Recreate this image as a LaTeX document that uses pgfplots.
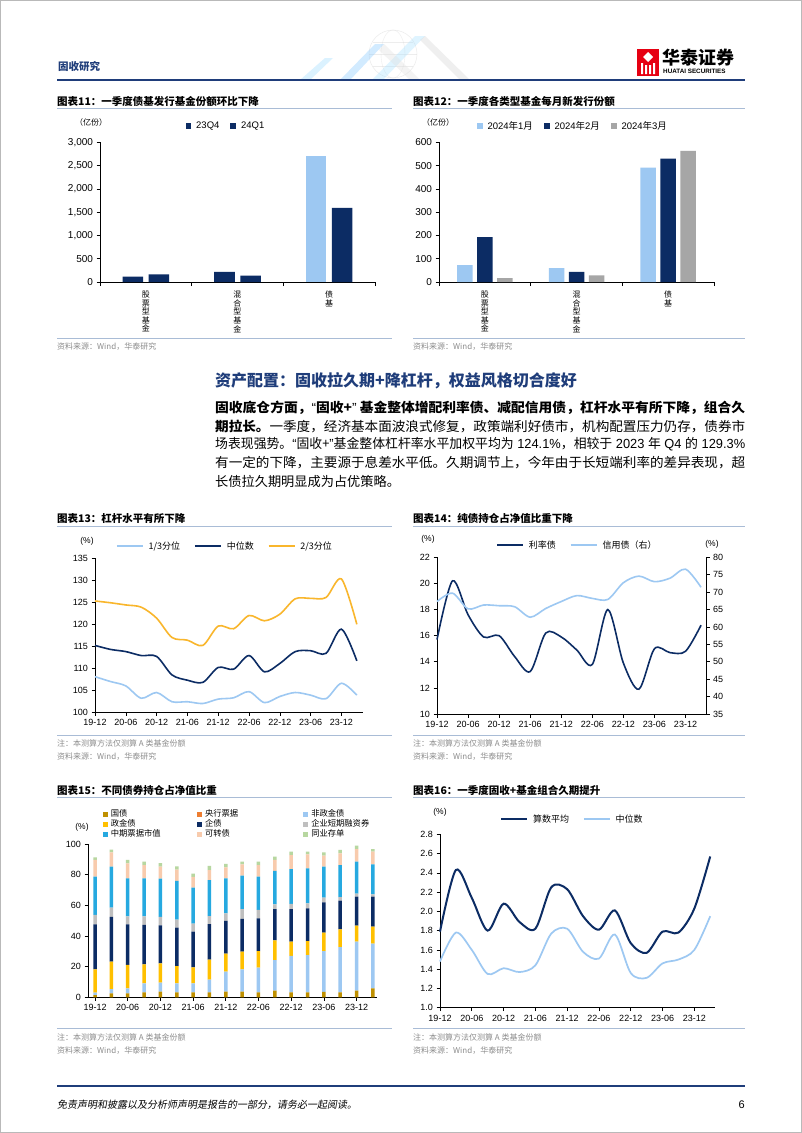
\documentclass[border=0pt]{standalone}
\usepackage{fontspec}
\usepackage{graphicx}
\setmainfont{Liberation Sans}
\newfontfamily\cjk{Noto Sans CJK SC}
\newfontfamily\cjkit[FakeSlant=0.18]{Noto Sans CJK SC}
\usepackage{pgfplots}
\usepackage{pgfplotstable}
\pgfplotsset{compat=1.18}

\definecolor{navy}{HTML}{0C2C64}
\definecolor{lblue}{HTML}{9DC8F2}
\definecolor{lgrey}{HTML}{A6A6A6}
\definecolor{gold}{HTML}{F9B62C}
\definecolor{hdrblue}{HTML}{1F3D7A}
\definecolor{rulec}{HTML}{A9BCD6}
\definecolor{srcgrey}{HTML}{8C8C8C}
\definecolor{cA}{HTML}{BF9000}
\definecolor{cB}{HTML}{ED7D31}
\definecolor{cC}{HTML}{9DC8F2}
\definecolor{cD}{HTML}{FFC000}
\definecolor{cE}{HTML}{0C2C64}
\definecolor{cF}{HTML}{BFBFBF}
\definecolor{cG}{HTML}{26A9E0}
\definecolor{cH}{HTML}{F8CBAD}
\definecolor{cI}{HTML}{B7D7A0}
\definecolor{logored}{HTML}{E60012}

% chart 13: 1/3, median, 2/3
\pgfplotstableread{
x lo med hi
0 108.1 115.2 125.3
1 107.0 114.3 124.9
2 106.0 113.8 124.4
3 103.2 112.9 123.9
4 104.5 112.7 121.4
5 102.4 108.5 117.0
6 102.4 107.3 116.4
7 102.0 106.8 115.2
8 103.0 110.2 119.6
9 103.3 109.8 119.0
10 104.7 112.9 122.0
11 102.2 109.2 120.8
12 103.6 111.1 122.3
13 104.5 113.8 125.8
14 103.9 114.0 125.9
15 103.1 113.4 126.1
16 106.6 118.9 130.3
17 103.9 111.7 120.0
}\tabM

% chart 14
\pgfplotstableread{
x rate credit
0 15.7 67.3
1 20.2 69.7
2 17.6 65.2
3 15.9 66.3
4 16.0 66.1
5 14.4 65.8
6 13.25 62.8
7 16.2 65.3
8 15.9 67.3
9 14.9 69.0
10 13.8 68.2
11 18.0 67.9
12 13.9 72.7
13 11.9 74.6
14 15.0 73.0
15 14.7 74.0
16 14.8 76.6
17 16.8 71.4
}\tabN

% chart 15
\pgfplotstableread{
x gz yp fz zj qz dr zp kz cd
0 1.5 0 1.5 15.3 29.3 6.1 25.0 10.9 1.7
1 2.6 0 2.8 17.9 29.1 6.1 26.7 9.4 1.7
2 2.6 0 3.3 15.2 26.5 5.2 24.8 9.8 2.2
3 3.3 0 5.8 12.4 25.7 5.6 24.8 8.7 2.2
4 3.7 0 5.9 12.6 24.8 5.4 25.0 7.8 2.4
5 3.3 0 5.8 11.3 25.0 5.3 25.2 7.4 2.1
6 3.3 0 5.8 10.5 23.2 5.2 23.5 7.0 2.2
7 3.3 0 8.2 13.1 23.2 5.2 23.5 6.5 2.7
8 3.7 0 13.0 11.8 21.3 5.0 22.8 7.2 2.2
9 3.7 0 14.6 11.5 21.3 6.5 21.7 7.4 1.8
10 3.3 0 16.0 10.9 21.3 5.5 21.7 7.6 2.2
11 4.3 0 20.0 12.9 20.4 3.1 21.7 7.2 2.1
12 3.3 0 23.7 9.3 21.3 3.3 22.8 9.1 2.2
13 3.3 0 24.3 9.1 21.3 3.3 22.8 9.2 1.7
14 3.5 0 26.7 12.0 19.8 3.0 20.2 7.2 2.2
15 3.3 0 29.5 11.5 18.7 2.4 20.9 7.6 2.2
16 4.3 0 32.0 10.4 19.0 1.9 20.9 8.2 2.2
17 5.9 0 29.1 11.1 19.6 1.5 19.5 8.3 1.7
}\tabS

% chart 16
\pgfplotstableread{
x avg med
0 1.79 1.48
1 2.43 1.78
2 2.14 1.60
3 1.80 1.35
4 2.08 1.41
5 1.89 1.37
6 1.82 1.44
7 2.25 1.77
8 2.23 1.82
9 1.95 1.58
10 1.81 1.51
11 2.01 1.76
12 1.67 1.36
13 1.57 1.31
14 1.79 1.46
15 1.78 1.50
16 2.03 1.60
17 2.57 1.95
}\tabD

\pgfplotsset{
  rpt/.style={
    scale only axis, anchor=south west, clip=false,
    axis x line*=bottom, axis y line*=left,
    axis line style={-, black, line width=0.6pt},
    tick style={black, line width=0.6pt},
    tick align=outside, major tick length=3.5pt,
    ticklabel style={font=\fontsize{9}{10}\selectfont},
    /pgf/number format/assume math mode=true,
    legend cell align=left,
    legend style={draw=none, fill=none, font=\cjk\fontsize{9}{10}\selectfont,
      inner sep=0pt, /tikz/every even column/.append style={column sep=12pt},
      /tikz/every odd column/.append style={column sep=3pt}},
  },
  linelegend/.style={legend image code/.code={\draw[##1, line width=1.6pt] (0pt,0pt) -- (26pt,0pt);}},
  sqlegend/.style={legend image code/.code={\fill[##1, draw=none] (0pt,-2.8pt) rectangle (5.6pt,2.8pt);}},
  qx/.style={xmin=0, xtick={0,2,...,16},
    xticklabels={19-12,20-06,20-12,21-06,21-12,22-06,22-12,23-06,23-12}},
  catlab/.style={xticklabel style={font=\cjk\fontsize{8}{8.6}\selectfont, align=center, anchor=north, yshift=-2pt}},
}

\tikzset{
  ttl/.style={anchor=west, inner sep=0, font=\cjk\bfseries\fontsize{10.5}{12}\selectfont},
  src/.style={anchor=west, inner sep=0, text=srcgrey, font=\cjk\fontsize{8}{9}\selectfont},
  unit/.style={inner sep=0, font=\cjk\fontsize{8}{9}\selectfont},
  para/.style={anchor=west, inner sep=0, font=\cjk\fontsize{13.2}{15}\selectfont},
}
\newcommand{\fitline}[1]{\resizebox{530pt}{\height}{#1}}
\newcommand{\qopen}{{\normalfont “}}
\newcommand{\qclose}{{\normalfont ”}}

\begin{document}
\begin{tikzpicture}[x=1pt,y=-1pt]
\useasboundingbox (0,0) rectangle (802,1133);
\fill[white] (0,0) rectangle (802,1133);
\draw[gray!55, line width=1.2pt] (0.6,0.6) rectangle (801.4,1132.4);

% ---------- header ----------
\node[anchor=west, inner sep=0, text=hdrblue, font=\cjk\bfseries\fontsize{10.5}{12}\selectfont] at (58,66) {固收研究};
\begin{scope}[opacity=0.35]
  \draw[gray!45, line width=0.5pt] (393,54) circle (24);
  \draw[gray!40, line width=0.4pt] (393,54) ellipse (12 and 24);
  \draw[gray!40, line width=0.4pt] (369,54) -- (417,54);
  \draw[gray!40, line width=0.4pt] (373,42) -- (413,42) (373,66) -- (413,66);
  \fill[blue!35!cyan!40] (300,80) -- (325,58) -- (333,58) -- (310,80) -- cycle;
  \fill[blue!45!cyan!50] (340,80) -- (375,44) -- (384,44) -- (350,80) -- cycle;
  \fill[blue!35!cyan!35] (372,80) -- (415,36) -- (425,36) -- (383,80) -- cycle;
  \fill[gray!35] (425,36) -- (470,80) -- (460,80) -- (420,40) -- cycle;
  \fill[gray!25] (384,44) -- (420,80) -- (410,80) -- (379,50) -- cycle;
\end{scope}
\draw[hdrblue, line width=1.8pt] (57,80) -- (745,80);
% logo
\fill[logored] (637,49) rectangle (659,76);
\fill[white] (648,52) -- (653,57) -- (648,62) -- (643,57) -- cycle;
\fill[white] (641,63) rectangle (643,74) (645,65) rectangle (647,74) (649,65) rectangle (651,74) (653,63) rectangle (655,74);
\node[anchor=west, inner sep=0, font=\cjk\bfseries\fontsize{18}{20}\selectfont] at (662,58) {华泰证券};
\node[anchor=west, inner sep=0, font=\bfseries\fontsize{6.3}{7}\selectfont] at (663,71.5) {HUATAI SECURITIES};

% ---------- chart 11 / 12 texts ----------
\node[ttl] at (57,101.5) {图表11：一季度债基发行基金份额环比下降};
\draw[rulec, line width=0.8pt] (57,108) -- (392,108);
\node[ttl] at (413,101.5) {图表12：一季度各类型基金每月新发行份额};
\draw[rulec, line width=0.8pt] (413,108) -- (745,108);
\node[unit] at (91,122.5) {（亿份）};
\node[unit] at (438,122.5) {（亿份）};
\draw[rulec, line width=0.8pt] (57,338) -- (392,338);
\draw[rulec, line width=0.8pt] (413,338) -- (745,338);
\node[src] at (57,347) {资料来源：Wind，华泰研究};
\node[src] at (413,347) {资料来源：Wind，华泰研究};

% ---------- chart 11 ----------
\begin{axis}[rpt, sqlegend, catlab, at={(100pt,-282pt)}, width=275pt, height=139.7pt,
  ymin=0, ymax=3000, ytick={0,500,...,3000},
  yticklabel style={font=\fontsize{10}{11}\selectfont, /pgf/number format/.cd, 1000 sep={,}},
  xmin=-0.5, xmax=2.5, xtick={0,1,2},
  xticklabels={{股\\票\\型\\基\\金},{混\\合\\型\\基\\金},{债\\基}},
  major x tick style={draw=none},
  minor xtick={-0.5,0.5,1.5,2.5}, minor tick length=4pt, minor x tick style={black, line width=0.6pt},
  legend columns=2,
  legend style={at={(0.458,1.117)}, anchor=center, font=\fontsize{9.5}{11}\selectfont,
    /tikz/every even column/.append style={column sep=9pt}},
]
\addplot[ybar, bar width=20.5pt, bar shift=-13pt, fill=navy, draw=none] coordinates {(0,115) (1,215)};
\addlegendentry{23Q4}
\addplot[ybar, bar width=20.5pt, bar shift=-13pt, fill=lblue, draw=none, forget plot] coordinates {(2,2708)};
\addplot[ybar, bar width=20.5pt, bar shift=13pt, fill=navy, draw=none] coordinates {(0,165) (1,136) (2,1590)};
\addlegendentry{24Q1}
\end{axis}

% ---------- chart 12 ----------
\begin{axis}[rpt, sqlegend, catlab, at={(439pt,-282pt)}, width=275pt, height=139.7pt,
  ymin=0, ymax=600, ytick={0,100,...,600},
  yticklabel style={font=\fontsize{10}{11}\selectfont},
  xmin=-0.5, xmax=2.5, xtick={0,1,2},
  xticklabels={{股\\票\\型\\基\\金},{混\\合\\型\\基\\金},{债\\基}},
  major x tick style={draw=none},
  minor xtick={-0.5,0.5,1.5,2.5}, minor tick length=4pt, minor x tick style={black, line width=0.6pt},
  legend columns=3,
  legend style={at={(0.487,1.117)}, anchor=center, font=\fontsize{9.5}{11}\selectfont,
    /tikz/every even column/.append style={column sep=9pt}},
]
\addplot[ybar, bar width=15.5pt, bar shift=-20pt, fill=lblue, draw=none] coordinates {(0,73) (1,60) (2,491)};
\addlegendentry{2024{\cjk 年}1{\cjk 月}}
\addplot[ybar, bar width=15.5pt, bar shift=0pt, fill=navy, draw=none] coordinates {(0,193) (1,44) (2,530)};
\addlegendentry{2024{\cjk 年}2{\cjk 月}}
\addplot[ybar, bar width=15.5pt, bar shift=20pt, fill=lgrey, draw=none] coordinates {(0,17) (1,29) (2,563)};
\addlegendentry{2024{\cjk 年}3{\cjk 月}}
\end{axis}

% ---------- heading & paragraph ----------
\node[anchor=west, inner sep=0, text=hdrblue, font=\cjk\bfseries\fontsize{16}{18}\selectfont] at (215,381) {资产配置：固收拉久期+降杠杆，权益风格切合度好};
\node[para] at (215,407.5) {\fitline{\bfseries 固收底仓方面，\qopen 固收+\qclose\ 基金整体增配利率债、减配信用债，杠杆水平有所下降，组合久}};
\node[para] at (215,426) {\fitline{{\bfseries 期拉长。}一季度，经济基本面波浪式修复，政策端利好债市，机构配置压力仍存，债券市}};
\node[para] at (215,444.5) {\fitline{场表现强势。\qopen 固收+\qclose 基金整体杠杆率水平加权平均为{\normalfont\ 124.1\%}，相较于{\normalfont\ 2023 }年{\normalfont\ Q4 }的{\normalfont\ 129.3\%}}};
\node[para] at (215,463) {\fitline{有一定的下降，主要源于息差水平低。久期调节上，今年由于长短端利率的差异表现，超}};
\node[para] at (215,481.5) {长债拉久期明显成为占优策略。};

% ---------- chart 13 / 14 texts ----------
\node[ttl] at (57,518.5) {图表13：杠杆水平有所下降};
\draw[rulec, line width=0.8pt] (57,526) -- (392,526);
\node[ttl] at (413,518.5) {图表14：纯债持仓占净值比重下降};
\draw[rulec, line width=0.8pt] (413,526) -- (745,526);
\node[unit, font=\fontsize{8.5}{9}\selectfont] at (87,541) {(\%)};
\node[unit, font=\fontsize{8.5}{9}\selectfont] at (428,539) {(\%)};
\node[unit, font=\fontsize{8.5}{9}\selectfont] at (712,544) {(\%)};
\draw[rulec, line width=0.8pt] (57,735.5) -- (392,735.5);
\draw[rulec, line width=0.8pt] (413,735.5) -- (745,735.5);
\node[src] at (57,743.5) {注：本测算方法仅测算 A 类基金份额};
\node[src] at (57,757) {资料来源：Wind，华泰研究};
\node[src] at (413,743.5) {注：本测算方法仅测算 A 类基金份额};
\node[src] at (413,757) {资料来源：Wind，华泰研究};

% ---------- chart 13 ----------
\begin{axis}[rpt, qx, linelegend, at={(95pt,-712.3pt)}, width=268pt, height=154pt,
  xmax=17.4, ymin=100, ymax=135, ytick={100,105,...,135},
  legend columns=3, legend style={at={(0.485,1.08)}, anchor=center},
]
\addplot[lblue, line width=1.6pt, smooth] table[x=x, y=lo] {\tabM};
\addlegendentry{1/3分位}
\addplot[navy, line width=1.6pt, smooth] table[x=x, y=med] {\tabM};
\addlegendentry{中位数}
\addplot[gold, line width=1.6pt, smooth] table[x=x, y=hi] {\tabM};
\addlegendentry{2/3分位}
\end{axis}

% ---------- chart 14 ----------
\begin{axis}[rpt, qx, linelegend, at={(437pt,-714pt)}, width=269pt, height=156.7pt,
  xmax=17.32, ymin=10, ymax=22, ytick={10,12,...,22},
  legend columns=2, legend style={at={(0.522,1.078)}, anchor=center},
]
\addplot[navy, line width=1.6pt, smooth] table[x=x, y=rate] {\tabN};
\addlegendentry{利率债}
\addlegendimage{lblue, line width=1.6pt}
\addlegendentry{信用债（右）}
\end{axis}
\begin{axis}[rpt, at={(437pt,-714pt)}, width=269pt, height=156.7pt,
  axis x line=none, axis y line*=right,
  xmin=0, xmax=17.32, ymin=35, ymax=80, ytick={35,40,...,80},
]
\addplot[lblue, line width=1.6pt, smooth] table[x=x, y=credit] {\tabN};
\end{axis}

% ---------- chart 15 / 16 texts ----------
\node[ttl] at (57,790.5) {图表15：不同债券持仓占净值比重};
\draw[rulec, line width=0.8pt] (57,797) -- (392,797);
\node[ttl] at (413,790.5) {图表16：一季度固收+基金组合久期提升};
\draw[rulec, line width=0.8pt] (413,797) -- (745,797);
\node[unit, font=\fontsize{8.5}{9}\selectfont] at (82,827) {(\%)};
\node[unit, font=\fontsize{8.5}{9}\selectfont] at (440,812.5) {(\%)};
\draw[rulec, line width=0.8pt] (57,1028.5) -- (392,1028.5);
\draw[rulec, line width=0.8pt] (413,1028.5) -- (745,1028.5);
\node[src] at (57,1037.5) {注：本测算方法仅测算 A 类基金份额};
\node[src] at (57,1050.5) {资料来源：Wind，华泰研究};
\node[src] at (413,1037.5) {注：本测算方法仅测算 A 类基金份额};
\node[src] at (413,1050.5) {资料来源：Wind，华泰研究};

% ---------- chart 15 ----------
\begin{axis}[rpt, at={(88pt,-997.3pt)}, width=289pt, height=153.3pt,
  xmin=-0.43, xmax=17.25, xtick={0,2,...,16},
  xticklabels={19-12,20-06,20-12,21-06,21-12,22-06,22-12,23-06,23-12},
  ymin=0, ymax=100, ytick={0,20,...,100},
  ybar stacked, bar width=3.5pt,
  every axis plot post/.append style={draw=none,
    legend image code/.code={\fill[##1, draw=none] (0pt,-2.6pt) rectangle (5.2pt,2.6pt);}},
  legend columns=3,
  legend style={at={(0.05,1.222)}, anchor=north west, font=\cjk\fontsize{8.3}{9}\selectfont,
    nodes={inner sep=0pt, text height=6.8pt, text depth=1.6pt}, row sep=1.6pt,
    /tikz/every even column/.append style={column sep=0pt},
    /tikz/every odd column/.append style={column sep=3pt}},
]
\addplot[fill=cA, draw=none] table[x=x, y=gz] {\tabS};
\addlegendentry{\makebox[86pt][l]{国债}}
\addplot[fill=cB, draw=none] table[x=x, y=yp] {\tabS};
\addlegendentry{\makebox[98pt][l]{央行票据}}
\addplot[fill=cC, draw=none] table[x=x, y=fz] {\tabS};
\addlegendentry{非政金债}
\addplot[fill=cD, draw=none] table[x=x, y=zj] {\tabS};
\addlegendentry{\makebox[86pt][l]{政金债}}
\addplot[fill=cE, draw=none] table[x=x, y=qz] {\tabS};
\addlegendentry{\makebox[98pt][l]{企债}}
\addplot[fill=cF, draw=none] table[x=x, y=dr] {\tabS};
\addlegendentry{企业短期融资券}
\addplot[fill=cG, draw=none] table[x=x, y=zp] {\tabS};
\addlegendentry{\makebox[86pt][l]{中期票据市值}}
\addplot[fill=cH, draw=none] table[x=x, y=kz] {\tabS};
\addlegendentry{\makebox[98pt][l]{可转债}}
\addplot[fill=cI, draw=none] table[x=x, y=cd] {\tabS};
\addlegendentry{同业存单}
\end{axis}

% ---------- chart 16 ----------
\begin{axis}[rpt, qx, linelegend, at={(440pt,-1007.7pt)}, width=275pt, height=173.4pt,
  xmax=17.3, ymin=1, ymax=2.8, ytick={1,1.2,1.4,1.6,1.8,2,2.2,2.4,2.6,2.8},
  yticklabel style={/pgf/number format/.cd, fixed, fixed zerofill, precision=1},
  legend columns=2, legend style={at={(0.482,1.088)}, anchor=center},
]
\addplot[navy, line width=2pt, smooth] table[x=x, y=avg] {\tabD};
\addlegendentry{算数平均}
\addplot[lblue, line width=1.7pt, smooth] table[x=x, y=med] {\tabD};
\addlegendentry{中位数}
\end{axis}

% ---------- footer ----------
\draw[hdrblue, line width=1.8pt] (57,1086) -- (745,1086);
\node[anchor=west, inner sep=0, font=\cjkit\fontsize{10}{11}\selectfont] at (57,1105) {免责声明和披露以及分析师声明是报告的一部分，请务必一起阅读。};
\node[anchor=east, inner sep=0, font=\fontsize{11}{12}\selectfont] at (745,1105) {6};
\end{tikzpicture}
\end{document}
